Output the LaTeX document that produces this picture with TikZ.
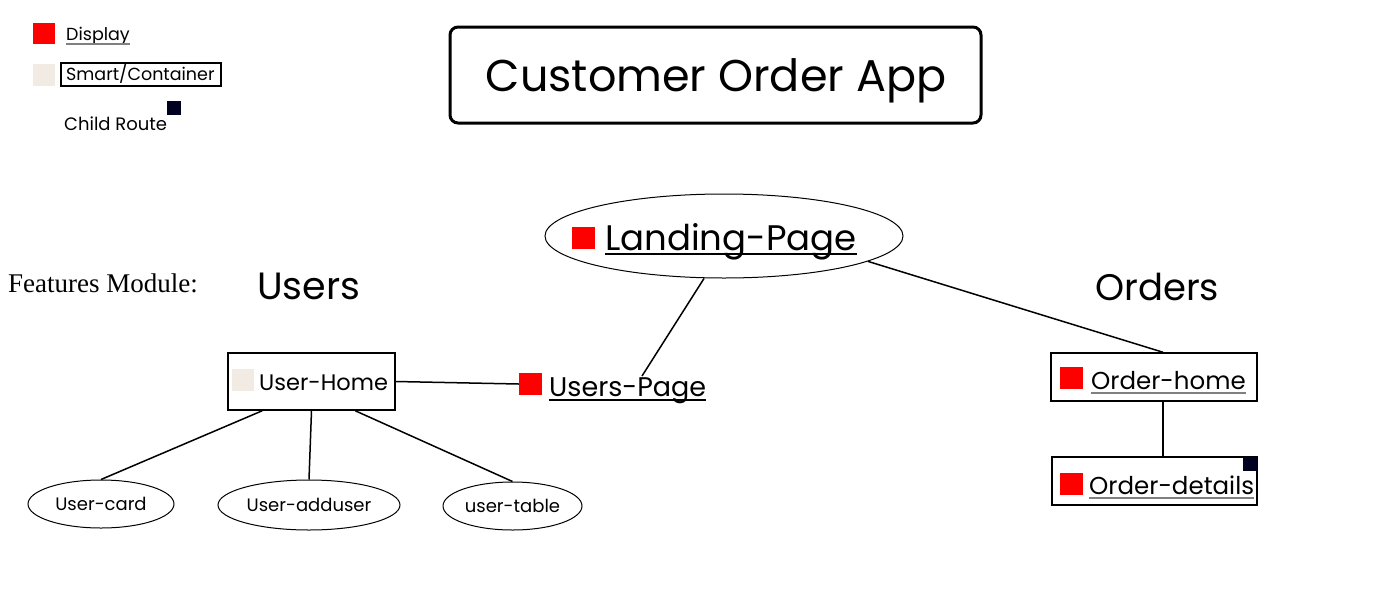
\documentclass[tikz,border=0pt]{standalone}
\usepackage{fontspec}
\setmainfont{Poppins}
\newfontfamily\serifface{Liberation Serif}
\usetikzlibrary{shapes.geometric}
\definecolor{dispred}{HTML}{FF0000}
\definecolor{smartbeige}{HTML}{F2EBE3}
\definecolor{routenavy}{HTML}{000020}
\definecolor{ulgray}{HTML}{808080}
\tikzset{
  lbl/.style={inner sep=0pt, anchor=base west},
  sq/.style={fill=#1, draw=none, inner sep=0pt},
  boxnode/.style={draw=black, line width=1.5pt, inner sep=0pt},
  oval/.style={draw=black, ellipse, line width=1pt, inner sep=0pt, font=\fontsize{18}{20}\selectfont},
  link/.style={draw=black, line width=1.5pt},
  ulblack/.style={draw=black, line width=1.2pt},
  ulgrey/.style={draw=ulgray, line width=1.5pt},
}
\newcommand{\ulunder}[3][4]{\draw[#2] ([yshift=-#1pt]#3.base west) -- ([yshift=-#1pt]#3.base east);}
\begin{document}
\begin{tikzpicture}[x=1pt,y=-1pt]
\useasboundingbox (0,0) rectangle (1400,600);

% legend
\fill[dispred] (33,23) rectangle (55,44);
\node[lbl, font=\fontsize{17.5}{20}\selectfont] (lgdisp) at (66,40) {Display};
\ulunder[4]{ulgrey}{lgdisp}
\fill[smartbeige] (33,64) rectangle (55,86);
\node[draw=black, line width=1.5pt, minimum width=160pt, minimum height=23pt, inner sep=0pt] (lgsmart) at (141,74.5) {};
\node[lbl, font=\fontsize{17.5}{20}\selectfont] (lgsmarttxt) at (66,80) {Smart/Container};
\node[lbl, font=\fontsize{18}{20}\selectfont] (lgchild) at (64,130) {Child Route};
\fill[routenavy] (167,101) rectangle (181,115);

% title
\node[draw=black, line width=3pt, rounded corners=8pt, minimum width=531pt, minimum height=96pt, inner sep=0pt] (title) at (715.5,75) {};
\node[inner sep=0pt, font=\fontsize{44.5}{50}\selectfont] (titletxt) at (716,81) {Customer Order App};

% landing page
\node[oval, minimum width=358pt, minimum height=84pt] (landing) at (724,236) {};
\fill[dispred] (572,227) rectangle (595,249);
\node[lbl, font=\fontsize{35.5}{40}\selectfont] (landtxt) at (605,250) {Landing-Page};
\ulunder[4]{ulblack}{landtxt}

% module headers
\node[lbl, font=\serifface\fontsize{27}{30}\selectfont] (feat) at (8,292) {Features Module:};
\node[lbl, font=\fontsize{38}{42}\selectfont] (users) at (257,299) {Users};
\node[lbl, font=\fontsize{37}{42}\selectfont] (orders) at (1095,300) {Orders};

% users side
\node[boxnode, minimum width=167pt, minimum height=57pt] (uhome) at (311.5,381.5) {};
\fill[smartbeige] (232,369) rectangle (254,391);
\node[lbl, font=\fontsize{22.5}{26}\selectfont] (uhometxt) at (259,390) {User-Home};

\node[sq=dispred, minimum width=23pt, minimum height=22pt] (upsq) at (530.5,384) {};
\node[lbl, font=\fontsize{27}{32}\selectfont] (upage) at (549,396) {Users-Page};
\ulunder[4]{ulblack}{upage}

\node[oval, minimum width=146pt, minimum height=48pt] (ucard) at (101,504) {User-card};
\node[oval, minimum width=182pt, minimum height=50pt] (uadd) at (309,505) {User-adduser};
\node[oval, minimum width=139pt, minimum height=48pt] (utable) at (512.5,506) {user-table};

% orders side
\node[boxnode, minimum width=206pt, minimum height=48pt] (ohome) at (1154,377) {};
\fill[dispred] (1060,367) rectangle (1083,389);
\node[lbl, font=\fontsize{24.5}{30}\selectfont] (ohometxt) at (1091,389) {Order-home};
\ulunder[4]{ulgrey}{ohometxt}

\node[boxnode, minimum width=205pt, minimum height=48pt] (odet) at (1154.5,481) {};
\fill[dispred] (1060,473) rectangle (1083,495);
\fill[routenavy] (1243,457) rectangle (1257,471);
\node[lbl, font=\fontsize{24.5}{30}\selectfont] (odettxt) at (1089,494) {Order-details};
\ulunder[4]{ulgrey}{odettxt}

% connectors
\draw[link] (uhome.east) -- (upsq.west);
\draw[link] ([xshift=-20pt]landing.south) -- ([xshift=93pt,yshift=20pt]upage.base west);
\draw[link] (landing.-10.5) -- ([xshift=9pt]ohome.north);
\draw[link] ([xshift=9pt]ohome.south) -- ([xshift=8.5pt]odet.north);
\draw[link] ([xshift=35pt]uhome.south west) -- (ucard.north);
\draw[link] (uhome.south) -- (uadd.north);
\draw[link] ([xshift=128pt]uhome.south west) -- (utable.north);
\end{tikzpicture}
\end{document}
